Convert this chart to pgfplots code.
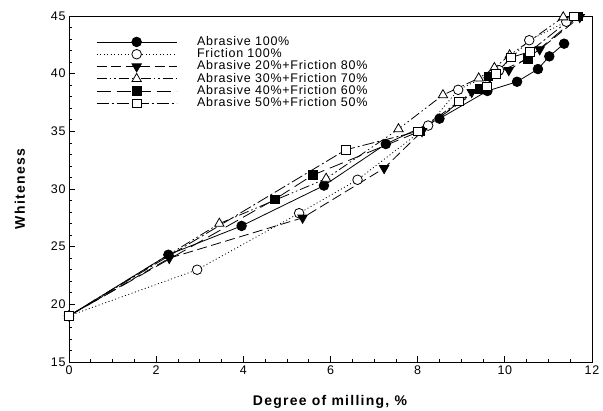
\documentclass[border=0pt]{standalone}
\usepackage{pgfplots}
\pgfplotsset{compat=1.18}
\usepackage{fontspec}
\setmainfont{Liberation Sans}[LetterSpace=6]
\newcommand{\tickfont}{\fontsize{12.5bp}{15bp}\selectfont}
\newcommand{\labfont}{\bfseries\fontsize{14bp}{16bp}\selectfont\addfontfeature{LetterSpace=9}}
\begin{document}
\begin{tikzpicture}
\useasboundingbox (-69bp,-49bp) rectangle (534bp,362bp);
\begin{axis}[
  scale only axis,
  width=523bp, height=346bp,
  xmin=0, xmax=12, ymin=15, ymax=45,
  xtick={0,2,...,12}, ytick={15,20,...,45},
  minor x tick num=3, minor y tick num=4,
  tick pos=left, tick align=inside,
  major tick length=6bp, minor tick length=3.5bp,
  axis line style={line width=0.9bp},
  every tick/.style={line width=0.7bp, black},
  /pgf/number format/assume math mode=true,
  tick label style={font=\tickfont},
  xlabel={Degree of milling, \%},
  ylabel={Whiteness},
  label style={font=\labfont},
  xlabel style={at={(axis description cs:0.499,-0.116)}, anchor=center},
  ylabel style={at={(axis description cs:-0.094,0.5)}, anchor=center},
  legend cell align=left,
  legend style={at={(axis description cs:0.046,0.948)}, anchor=north west,
    draw=none, fill=none, font=\tickfont,
    nodes={inner sep=0pt, text height=9bp, text depth=2.5bp},
    row sep=0.8bp, column sep=20bp},
  legend image code/.code={\draw[mark repeat=2, mark phase=2] plot coordinates {(0bp,0bp) (40bp,0bp) (80bp,0bp)};},
  every axis plot/.append style={line width=0.8bp, black},
]
\addplot[solid, mark=*, mark size=4.8bp, mark options={solid, fill=black}] coordinates {
(0,19) (2.28,24.3) (3.96,26.8) (5.85,30.3) (7.27,33.9) (8.5,36.1) (9.6,38.5) (10.28,39.3) (10.76,40.4) (11.02,41.5) (11.36,42.6)};
\addlegendentry{Abrasive 100\%}
\addplot[dash pattern=on 1bp off 2.5bp, mark=*, mark size=4.8bp, mark options={solid, fill=white}] coordinates {
(0,19) (2.94,23.0) (5.28,27.9) (6.62,30.8) (8.24,35.5) (8.93,38.6) (9.87,40.3) (10.56,42.9) (11.41,44.5)};
\addlegendentry{Friction 100\%}
\addplot[dash pattern=on 10bp off 4.5bp, mark=triangle*, mark size=5.4bp, mark options={solid, fill=black, rotate=180}] coordinates {
(0,19) (2.3,24.0) (5.36,27.5) (7.23,31.8) (8.1,35.0) (9.24,38.4) (10.09,40.3) (10.8,42.1) (11.72,44.9)};
\addlegendentry{Abrasive 20\%+Friction 80\%}
\addplot[dash pattern=on 10bp off 3bp on 1.5bp off 3bp on 1.5bp off 3bp, mark=triangle*, mark size=5.4bp, mark options={solid, fill=white}] coordinates {
(0,19) (3.45,27.0) (5.9,30.9) (7.56,35.2) (8.58,38.15) (9.4,39.6) (9.76,40.5) (10.11,41.6) (11.34,44.9)};
\addlegendentry{Abrasive 30\%+Friction 70\%}
\addplot[dash pattern=on 14bp off 6bp, mark=square*, mark size=4.3bp, mark options={solid, fill=black}] coordinates {
(0,19) (4.72,29.1) (5.59,31.2) (8.05,35.0) (9.43,38.7) (9.62,39.75) (10.53,41.3) (11.68,44.95)};
\addlegendentry{Abrasive 40\%+Friction 60\%}
\addplot[dash pattern=on 12bp off 3bp on 2bp off 3bp, mark=square*, mark size=4.3bp, mark options={solid, fill=white}] coordinates {
(0,19) (6.35,33.4) (8.01,35.0) (8.95,37.6) (9.59,38.9) (9.79,40.0) (10.14,41.4) (10.57,41.9) (11.58,44.95)};
\addlegendentry{Abrasive 50\%+Friction 50\%}
\end{axis}
\end{tikzpicture}
\end{document}
